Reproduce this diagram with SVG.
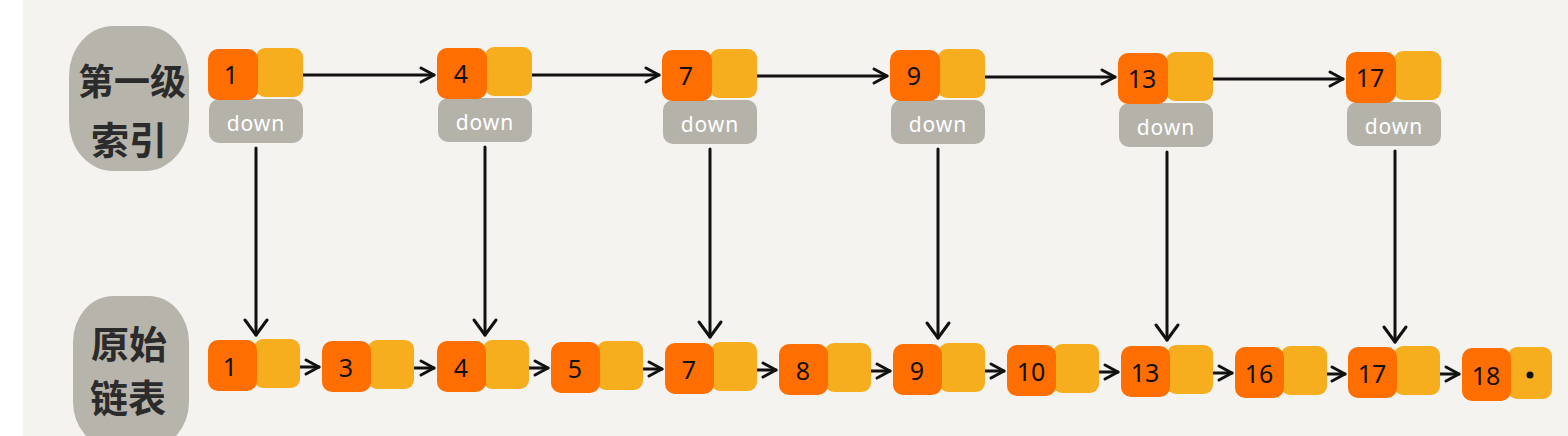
<svg xmlns="http://www.w3.org/2000/svg" width="1568" height="436" viewBox="0 0 1568 436">
<defs>
<style>
.o{fill:#ff6e00}
.y{fill:#f6ae1e}
.d{fill:#b5b2aa}
.blob{fill:#b7b4ac}
.num{font-family:"Noto Sans","DejaVu Sans",sans-serif;font-size:25px;fill:#111;text-anchor:middle}
.dn{font-family:"Noto Sans","DejaVu Sans",sans-serif;font-size:21px;fill:#fff;text-anchor:middle;letter-spacing:1px}
.cjk{font-family:"Noto Sans CJK SC",sans-serif;font-weight:700;fill:#2b2b2b;text-anchor:middle}
.ln{stroke:#111;stroke-width:3;fill:none;stroke-linecap:round}
</style>
<marker id="ah" viewBox="-16 -12 18 24" markerWidth="18" markerHeight="24" refX="0" refY="0" markerUnits="userSpaceOnUse" orient="auto" overflow="visible">
<path d="M-13,-7 L0,0 L-13,7" fill="none" stroke="#111" stroke-width="3" stroke-linecap="round" stroke-linejoin="round"/>
</marker>
<marker id="av" viewBox="-16 -12 18 24" markerWidth="18" markerHeight="24" refX="0" refY="0" markerUnits="userSpaceOnUse" orient="auto" overflow="visible">
<path d="M-15,-11 L0,0 L-15,11" fill="none" stroke="#111" stroke-width="3" stroke-linecap="round" stroke-linejoin="round"/>
</marker>
</defs>
<rect x="0" y="0" width="1568" height="436" fill="#f4f3ef"/>
<rect x="0" y="0" width="23" height="436" fill="#ffffff"/>

<g id="label-index">
<rect class="blob" x="69" y="26" width="120" height="145" rx="44" ry="50"/>
<text class="cjk" x="132" y="95" font-size="36">第一级</text>
<text class="cjk" x="129" y="154" font-size="38">索引</text>
</g>
<g id="label-base">
<rect class="blob" x="73" y="296" width="116" height="152" rx="40" ry="46"/>
<text class="cjk" x="129" y="358" font-size="38">原始</text>
<text class="cjk" x="128" y="412" font-size="38">链表</text>
</g>

<g id="connectors">
<line class="ln" x1="278" y1="75" x2="434" y2="75" marker-end="url(#ah)"/>
<line class="ln" x1="507" y1="75" x2="659" y2="75" marker-end="url(#ah)"/>
<line class="ln" x1="732" y1="76" x2="887" y2="76" marker-end="url(#ah)"/>
<line class="ln" x1="960" y1="77" x2="1115" y2="77" marker-end="url(#ah)"/>
<line class="ln" x1="1188" y1="79" x2="1343" y2="79" marker-end="url(#ah)"/>

<line class="ln" x1="256" y1="148" x2="256" y2="335" marker-end="url(#av)"/>
<line class="ln" x1="485" y1="147" x2="485" y2="335" marker-end="url(#av)"/>
<line class="ln" x1="710" y1="149" x2="710" y2="337" marker-end="url(#av)"/>
<line class="ln" x1="938" y1="149" x2="938" y2="338" marker-end="url(#av)"/>
<line class="ln" x1="1167" y1="152" x2="1167" y2="340" marker-end="url(#av)"/>
<line class="ln" x1="1395" y1="151" x2="1395" y2="342" marker-end="url(#av)"/>

<line class="ln" x1="280" y1="367" x2="319" y2="367" marker-end="url(#ah)"/>
<line class="ln" x1="394" y1="368" x2="434" y2="368" marker-end="url(#ah)"/>
<line class="ln" x1="509" y1="368" x2="548" y2="368" marker-end="url(#ah)"/>
<line class="ln" x1="623" y1="369" x2="662" y2="369" marker-end="url(#ah)"/>
<line class="ln" x1="737" y1="370" x2="776" y2="370" marker-end="url(#ah)"/>
<line class="ln" x1="851" y1="371" x2="890" y2="371" marker-end="url(#ah)"/>
<line class="ln" x1="965" y1="371" x2="1004" y2="371" marker-end="url(#ah)"/>
<line class="ln" x1="1079" y1="372" x2="1118" y2="372" marker-end="url(#ah)"/>
<line class="ln" x1="1193" y1="373" x2="1232" y2="373" marker-end="url(#ah)"/>
<line class="ln" x1="1307" y1="374" x2="1345" y2="374" marker-end="url(#ah)"/>
<line class="ln" x1="1420" y1="374" x2="1459" y2="374" marker-end="url(#ah)"/>
</g>

<g id="top-1" transform="translate(208,49)">
<rect class="d" x="1" y="50" width="94" height="44" rx="10"/>
<rect class="y" x="48" y="-1" width="47" height="49" rx="9"/>
<rect class="o" x="0" y="0" width="50" height="51" rx="10"/>
<text class="num" x="23" y="35">1</text>
<text class="dn" x="48" y="82">down</text>
</g>
<g id="top-4" transform="translate(437,48)">
<rect class="d" x="1" y="50" width="94" height="44" rx="10"/>
<rect class="y" x="48" y="-1" width="47" height="49" rx="9"/>
<rect class="o" x="0" y="0" width="50" height="51" rx="10"/>
<text class="num" x="24" y="35">4</text>
<text class="dn" x="48" y="82">down</text>
</g>
<g id="top-7" transform="translate(662,50)">
<rect class="d" x="1" y="50" width="94" height="44" rx="10"/>
<rect class="y" x="48" y="-1" width="47" height="49" rx="9"/>
<rect class="o" x="0" y="0" width="50" height="51" rx="10"/>
<text class="num" x="24" y="35">7</text>
<text class="dn" x="48" y="82">down</text>
</g>
<g id="top-9" transform="translate(890,50)">
<rect class="d" x="1" y="50" width="94" height="44" rx="10"/>
<rect class="y" x="48" y="-1" width="47" height="49" rx="9"/>
<rect class="o" x="0" y="0" width="50" height="51" rx="10"/>
<text class="num" x="24" y="35">9</text>
<text class="dn" x="48" y="82">down</text>
</g>
<g id="top-13" transform="translate(1118,53)">
<rect class="d" x="1" y="50" width="94" height="44" rx="10"/>
<rect class="y" x="48" y="-1" width="47" height="49" rx="9"/>
<rect class="o" x="0" y="0" width="50" height="51" rx="10"/>
<text class="num" x="24" y="35">13</text>
<text class="dn" x="48" y="82">down</text>
</g>
<g id="top-17" transform="translate(1346,52)">
<rect class="d" x="1" y="50" width="94" height="44" rx="10"/>
<rect class="y" x="48" y="-1" width="47" height="49" rx="9"/>
<rect class="o" x="0" y="0" width="50" height="51" rx="10"/>
<text class="num" x="24" y="35">17</text>
<text class="dn" x="48" y="82">down</text>
</g>

<g id="base-1" transform="translate(208,340)">
<rect class="y" x="46" y="-1" width="46" height="49" rx="9"/>
<rect class="o" x="0" y="0" width="49" height="51" rx="10"/>
<text class="num" x="22" y="36">1</text>
</g>
<g id="base-3" transform="translate(322,341)">
<rect class="y" x="46" y="-1" width="46" height="49" rx="9"/>
<rect class="o" x="0" y="0" width="49" height="51" rx="10"/>
<text class="num" x="24" y="36">3</text>
</g>
<g id="base-4" transform="translate(437,341)">
<rect class="y" x="46" y="-1" width="46" height="49" rx="9"/>
<rect class="o" x="0" y="0" width="49" height="51" rx="10"/>
<text class="num" x="24" y="36">4</text>
</g>
<g id="base-5" transform="translate(551,342)">
<rect class="y" x="46" y="-1" width="46" height="49" rx="9"/>
<rect class="o" x="0" y="0" width="49" height="51" rx="10"/>
<text class="num" x="24" y="36">5</text>
</g>
<g id="base-7" transform="translate(665,343)">
<rect class="y" x="46" y="-1" width="46" height="49" rx="9"/>
<rect class="o" x="0" y="0" width="49" height="51" rx="10"/>
<text class="num" x="24" y="36">7</text>
</g>
<g id="base-8" transform="translate(779,344)">
<rect class="y" x="46" y="-1" width="46" height="49" rx="9"/>
<rect class="o" x="0" y="0" width="49" height="51" rx="10"/>
<text class="num" x="24" y="36">8</text>
</g>
<g id="base-9" transform="translate(893,344)">
<rect class="y" x="46" y="-1" width="46" height="49" rx="9"/>
<rect class="o" x="0" y="0" width="49" height="51" rx="10"/>
<text class="num" x="24" y="36">9</text>
</g>
<g id="base-10" transform="translate(1007,345)">
<rect class="y" x="46" y="-1" width="46" height="49" rx="9"/>
<rect class="o" x="0" y="0" width="49" height="51" rx="10"/>
<text class="num" x="24" y="36">10</text>
</g>
<g id="base-13" transform="translate(1121,346)">
<rect class="y" x="46" y="-1" width="46" height="49" rx="9"/>
<rect class="o" x="0" y="0" width="49" height="51" rx="10"/>
<text class="num" x="24" y="36">13</text>
</g>
<g id="base-16" transform="translate(1235,347)">
<rect class="y" x="46" y="-1" width="46" height="49" rx="9"/>
<rect class="o" x="0" y="0" width="49" height="51" rx="10"/>
<text class="num" x="24" y="36">16</text>
</g>
<g id="base-17" transform="translate(1348,347)">
<rect class="y" x="46" y="-1" width="46" height="49" rx="9"/>
<rect class="o" x="0" y="0" width="49" height="51" rx="10"/>
<text class="num" x="24" y="36">17</text>
</g>
<g id="base-18" transform="translate(1462,348)">
<rect class="y" x="46" y="-1" width="44" height="52" rx="9"/>
<rect class="o" x="0" y="0" width="49" height="53" rx="10"/>
<text class="num" x="24" y="37">18</text>
<circle cx="68" cy="27" r="3.5" fill="#111"/>
</g>
</svg>
